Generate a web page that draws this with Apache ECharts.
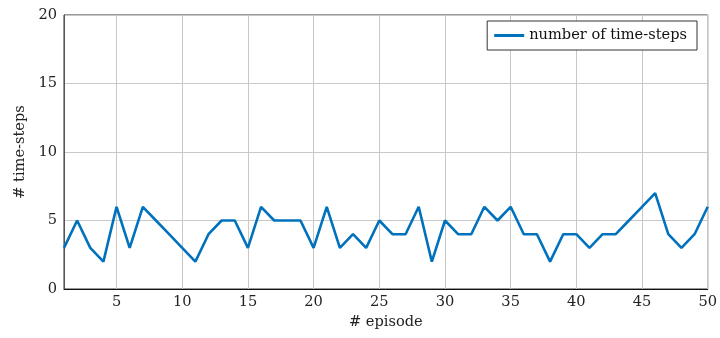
<!DOCTYPE html>
<html>
<head>
<meta charset="utf-8">
<script src="https://cdn.jsdelivr.net/npm/echarts@6/dist/echarts.min.js"></script>
<style>html,body{margin:0;padding:0;background:#fff}#c{width:720px;height:338px}</style>
</head>
<body>
<div id="c"></div>
<script>
const episodes = [1,2,3,4,5,6,7,8,9,10,11,12,13,14,15,16,17,18,19,20,21,22,23,24,25,26,27,28,29,30,31,32,33,34,35,36,37,38,39,40,41,42,43,44,45,46,47,48,49,50];
const timeSteps = [3,5,3,2,6,3,6,5,4,3,2,4,5,5,3,6,5,5,5,3,6,3,4,3,5,4,4,6,2,5,4,4,6,5,6,4,4,2,4,4,3,4,4,5,6,7,4,3,4,6];
const xTicks = [5,10,15,20,25,30,35,40,45,50];
const yTicks = [0,5,10,15,20];
const seriesName = 'number of time-steps';

const font = 'DejaVu Serif';
const fs = 14.6;
const chart = echarts.init(document.getElementById('c'));
chart.setOption({
  animation: false,
  textStyle: {fontFamily: font},
  grid: {left: 64, right: 11, top: 15, bottom: 49, show: true, borderColor: '#333', borderWidth: 1},
  legend: {
    right: 23, top: 21,
    data: [{name: seriesName, icon: 'rect'}],
    itemWidth: 30, itemHeight: 3,
    itemGap: 0,
    padding: [7, 10, 7, 7],
    borderColor: '#333', borderWidth: 1, borderRadius: 0,
    backgroundColor: '#fff',
    textStyle: {fontFamily: font, fontSize: fs, color: '#111'}
  },
  xAxis: {
    type: 'value', min: 1, max: 50,
    name: '# episode', nameLocation: 'middle', nameGap: 26,
    nameTextStyle: {fontFamily: font, fontSize: fs, color: '#222'},
    axisLine: {show: true, lineStyle: {color: '#111', width: 1}},
    axisTick: {show: false, customValues: xTicks},
    axisLabel: {customValues: xTicks, fontFamily: font, fontSize: fs, color: '#222', margin: 6},
    splitLine: {show: true, lineStyle: {color: '#c8c8c8', width: 1}}
  },
  yAxis: {
    type: 'value', min: 0, max: 20, interval: 5,
    name: '# time-steps', nameLocation: 'middle', nameGap: 33,
    nameTextStyle: {fontFamily: font, fontSize: fs, color: '#222'},
    axisLine: {show: true, lineStyle: {color: '#555', width: 1}},
    axisTick: {show: false},
    axisLabel: {customValues: yTicks, fontFamily: font, fontSize: fs, color: '#222', margin: 7},
    splitLine: {show: true, lineStyle: {color: '#c8c8c8', width: 1}}
  },
  series: [{
    name: seriesName, type: 'line',
    data: episodes.map((e, i) => [e, timeSteps[i]]),
    showSymbol: false, symbol: 'none',
    lineStyle: {color: '#0072BD', width: 2.6},
    itemStyle: {color: '#0072BD'},
    z: 3
  }]
});
</script>
</body>
</html>
